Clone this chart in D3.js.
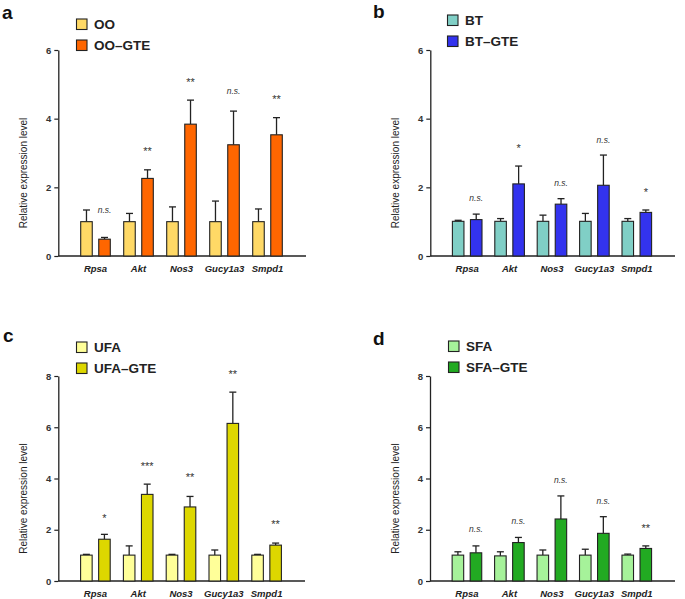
<!DOCTYPE html>
<html>
<head>
<meta charset="utf-8">
<script src="https://cdn.jsdelivr.net/npm/d3@7"></script>
<style>
  body { margin: 0; background: #fff; }
  svg { display: block; font-family: "Liberation Sans", Arial, sans-serif; }
</style>
</head>
<body>
<div id="chart"></div>
<script>
const genes = ["Rpsa", "Akt", "Nos3", "Gucy1a3", "Smpd1"];

// panel a
const ooMean = [1, 1, 1, 1, 1];
const ooSem = [0.34, 0.24, 0.43, 0.6, 0.37];
const ooGteMean = [0.49, 2.26, 3.84, 3.24, 3.53];
const ooGteSem = [0.05, 0.25, 0.7, 0.98, 0.5];
const ooSig = ["n.s.", "**", "**", "n.s.", "**"];
const ooSigAt = [1.34, 3.14, 5.13, 4.82, 4.64];

// panel b
const btMean = [1.01, 1.01, 1.01, 1.01, 1.01];
const btSem = [0.03, 0.08, 0.18, 0.23, 0.08];
const btGteMean = [1.06, 2.1, 1.51, 2.06, 1.27];
const btGteSem = [0.16, 0.52, 0.16, 0.88, 0.07];
const btSig = ["n.s.", "*", "n.s.", "n.s.", "*"];
const btSigAt = [1.7, 3.21, 2.14, 3.38, 1.95];

// panel c
const ufaMean = [1.01, 1.01, 1.01, 1.01, 1.01];
const ufaSem = [0.03, 0.36, 0.03, 0.2, 0.03];
const ufaGteMean = [1.63, 3.38, 2.89, 6.15, 1.4];
const ufaGteSem = [0.19, 0.4, 0.41, 1.22, 0.08];
const ufaSig = ["*", "***", "**", "**", "**"];
const ufaSigAt = [2.57, 4.59, 4.14, 8.17, 2.31];

// panel d
const sfaMean = [1.01, 0.98, 1.01, 1.01, 1.01];
const sfaSem = [0.13, 0.16, 0.2, 0.23, 0.04];
const sfaGteMean = [1.1, 1.5, 2.42, 1.86, 1.27];
const sfaGteSem = [0.27, 0.2, 0.9, 0.65, 0.1];
const sfaSig = ["n.s.", "n.s.", "n.s.", "n.s.", "**"];
const sfaSigAt = [2.02, 2.34, 3.93, 3.12, 2.15];

const ticks6 = [0, 2, 4, 6];
const ticks8 = [0, 2, 4, 6, 8];

const panels = [
  { letter: "a", names: ["OO", "OO\u2013GTE"], colors: ["#FFD966", "#FF6600"],
    means: [ooMean, ooGteMean], sems: [ooSem, ooGteSem], sig: ooSig, sigAt: ooSigAt,
    ymax: 6, ticks: ticks6, x0: 58.3, x1: 306, yTop: 50, yBot: 256,
    letterPos: [2, 18.5], legendPos: [76, 18.5] },
  { letter: "b", names: ["BT", "BT\u2013GTE"], colors: ["#80CFC6", "#3333EE"],
    means: [btMean, btGteMean], sems: [btSem, btGteSem], sig: btSig, sigAt: btSigAt,
    ymax: 6, ticks: ticks6, x0: 430.3, x1: 675, yTop: 50, yBot: 256,
    letterPos: [373, 17.5], legendPos: [447, 14.5] },
  { letter: "c", names: ["UFA", "UFA\u2013GTE"], colors: ["#FFFF99", "#DDD700"],
    means: [ufaMean, ufaGteMean], sems: [ufaSem, ufaGteSem], sig: ufaSig, sigAt: ufaSigAt,
    ymax: 8, ticks: ticks8, x0: 58.3, x1: 305, yTop: 376, yBot: 581,
    letterPos: [3, 342], legendPos: [76, 341.5] },
  { letter: "d", names: ["SFA", "SFA\u2013GTE"], colors: ["#A6F29A", "#22AA22"],
    means: [sfaMean, sfaGteMean], sems: [sfaSem, sfaGteSem], sig: sfaSig, sigAt: sfaSigAt,
    ymax: 8, ticks: ticks8, x0: 430, x1: 675, yTop: 376, yBot: 581,
    letterPos: [373, 345], legendPos: [448, 340.5] }
];

const ink = "#222";

const svg = d3.select("#chart").append("svg")
  .attr("width", 685)
  .attr("height", 599);

panels.forEach(p => {
  const g = svg.append("g");

  const x = d3.scaleBand()
    .domain(genes)
    .range([p.x0 + 15.7, p.x1 - 17])
    .paddingInner(0)
    .paddingOuter(0);

  const xs = d3.scaleBand()
    .domain([0, 1])
    .range([-14.8, 14.8])
    .paddingInner(0.36);

  const y = d3.scaleLinear()
    .domain([0, p.ymax])
    .range([p.yBot, p.yTop]);

  // y axis
  const yAxis = g.append("g")
    .attr("transform", `translate(${p.x0},0)`)
    .call(d3.axisLeft(y).tickValues(p.ticks).tickFormat(d3.format("d"))
      .tickSize(4).tickPadding(3).tickSizeOuter(0));
  yAxis.select(".domain").attr("stroke", ink).attr("stroke-width", 1.3);
  yAxis.selectAll(".tick line").attr("stroke", ink).attr("stroke-width", 1.2);
  yAxis.selectAll(".tick text")
    .attr("fill", "#333")
    .style("font-size", "9.5px")
    .style("font-weight", "bold");

  // x axis line
  const xAxis = g.append("g")
    .attr("transform", `translate(0,${p.yBot})`)
    .call(d3.axisBottom(x).tickSize(0).tickPadding(9));
  xAxis.select(".domain")
    .attr("d", `M${p.x0},0H${p.x1}`)
    .attr("stroke", ink).attr("stroke-width", 1.3);
  xAxis.selectAll(".tick text")
    .attr("fill", "#222")
    .style("font-size", "9.5px")
    .style("font-weight", "bold")
    .style("font-style", "italic");

  // axis title
  g.append("text")
    .attr("transform", `translate(${p.x0 - 31},${(p.yTop + p.yBot) / 2 + 20}) rotate(-90)`)
    .attr("text-anchor", "middle")
    .attr("fill", "#222")
    .style("font-size", "10px")
    .text("Relative expression level");

  // bars and error bars
  [0, 1].forEach(s => {
    const rows = genes.map((gname, i) => ({ gene: gname, mean: p.means[s][i], sem: p.sems[s][i] }));
    const sg = g.append("g");
    const cx = d => x(d.gene) + x.bandwidth() / 2 + xs(s) + xs.bandwidth() / 2;

    sg.selectAll("line.err")
      .data(rows)
      .join("line")
      .attr("class", "err")
      .attr("x1", cx)
      .attr("x2", cx)
      .attr("y1", d => y(d.mean))
      .attr("y2", d => y(d.mean + d.sem))
      .attr("stroke", ink)
      .attr("stroke-width", 1.3);

    sg.selectAll("line.cap")
      .data(rows)
      .join("line")
      .attr("class", "cap")
      .attr("x1", d => cx(d) - 3.5)
      .attr("x2", d => cx(d) + 3.5)
      .attr("y1", d => y(d.mean + d.sem))
      .attr("y2", d => y(d.mean + d.sem))
      .attr("stroke", ink)
      .attr("stroke-width", 1.3);

    sg.selectAll("rect")
      .data(rows)
      .join("rect")
      .attr("x", d => x(d.gene) + x.bandwidth() / 2 + xs(s))
      .attr("y", d => y(d.mean))
      .attr("width", xs.bandwidth())
      .attr("height", d => y(0) - y(d.mean))
      .attr("fill", p.colors[s])
      .attr("stroke", ink)
      .attr("stroke-width", 1.1);
  });

  // significance labels, over the GTE bar
  g.selectAll("text.sig")
    .data(genes.map((gname, i) => ({ gene: gname, label: p.sig[i], at: p.sigAt[i] })))
    .join("text")
    .attr("class", "sig")
    .attr("x", d => x(d.gene) + x.bandwidth() / 2 + xs(1) + xs.bandwidth() / 2)
    .attr("y", d => y(d.at) + (d.label === "n.s." ? 3 : 6.5))
    .attr("text-anchor", "middle")
    .attr("fill", "#333")
    .style("font-size", d => d.label === "n.s." ? "8.5px" : "11px")
    .style("font-style", d => d.label === "n.s." ? "italic" : "normal")
    .text(d => d.label);

  // panel letter
  svg.append("text")
    .attr("x", p.letterPos[0])
    .attr("y", p.letterPos[1])
    .attr("fill", "#111")
    .style("font-size", "19px")
    .style("font-weight", "bold")
    .text(p.letter);

  // legend
  const lg = svg.append("g")
    .attr("transform", `translate(${p.legendPos[0]},${p.legendPos[1]})`);
  p.names.forEach((nm, i) => {
    lg.append("rect")
      .attr("x", 0.5)
      .attr("y", i * 21 + 0.5)
      .attr("width", 10.5)
      .attr("height", 10.5)
      .attr("fill", p.colors[i])
      .attr("stroke", ink)
      .attr("stroke-width", 1.1);
    lg.append("text")
      .attr("x", 18)
      .attr("y", i * 21 + 10.5)
      .attr("fill", "#222")
      .style("font-size", "13.5px")
      .style("font-weight", "bold")
      .text(nm);
  });
});
</script>
</body>
</html>
